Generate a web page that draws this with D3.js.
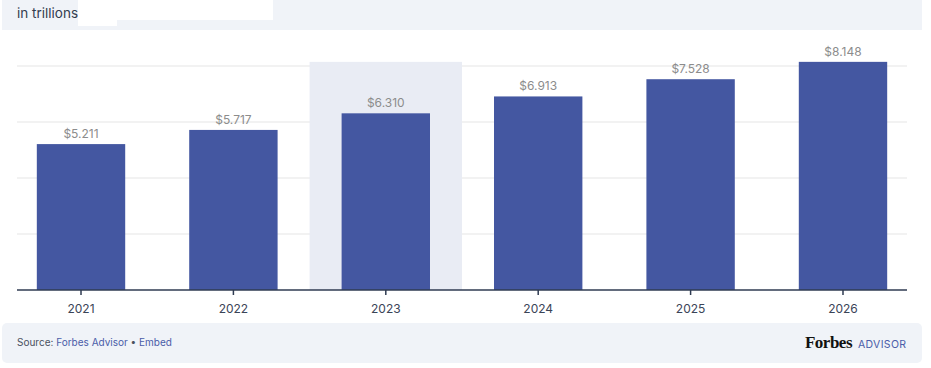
<!DOCTYPE html>
<html>
<head>
<meta charset="utf-8">
<script src="https://cdn.jsdelivr.net/npm/d3@7"></script>
<style>
  body { margin: 0; background: #fff; }
  svg { display: block; font-family: Inter, "Open Sans", sans-serif; }
</style>
</head>
<body>
<svg id="svg" width="931" height="368"></svg>
<script>
const years = ['2021', '2022', '2023', '2024', '2025', '2026'];
const values = [5.211, 5.717, 6.310, 6.913, 7.528, 8.148];
const gridTicks = [0, 2, 4, 6, 8];
const highlightYear = '2023';

const svg = d3.select('#svg');

// header band
svg.append('rect').attr('x', 2).attr('y', 0).attr('width', 920).attr('height', 30).attr('fill', '#f0f3f8');
svg.append('text').attr('x', 17).attr('y', 18).attr('fill', '#333d4f').attr('font-size', 13.5).text('in trillions');
svg.append('rect').attr('x', 78).attr('y', 0).attr('width', 195).attr('height', 20).attr('fill', '#fff');
svg.append('rect').attr('x', 78).attr('y', 20).attr('width', 39).attr('height', 6).attr('fill', '#fff');

const x = d3.scaleBand().domain(years).range([17, 907]).paddingInner(0.42).paddingOuter(0.13);
const y = d3.scaleLinear().domain([0, 8]).range([290, 66]);

// grid
svg.append('g').selectAll('line').data(gridTicks.slice(1)).join('line')
  .attr('x1', 17).attr('x2', 907)
  .attr('y1', (d) => y(d)).attr('y2', (d) => y(d))
  .attr('stroke', '#e5e5e5').attr('stroke-width', 1);

// highlighted year background
const step = x.step();
svg.append('rect')
  .attr('x', x(highlightYear) + x.bandwidth() / 2 - step / 2)
  .attr('y', y(d3.max(values)))
  .attr('width', step)
  .attr('height', y(0) - y(d3.max(values)))
  .attr('fill', '#e9ecf4');

// bars
svg.append('g').selectAll('rect').data(values).join('rect')
  .attr('x', (d, i) => x(years[i]))
  .attr('y', (d) => y(d))
  .attr('width', x.bandwidth())
  .attr('height', (d) => y(0) - y(d))
  .attr('fill', '#4457a1');

// value labels
svg.append('g').selectAll('text').data(values).join('text')
  .attr('x', (d, i) => x(years[i]) + x.bandwidth() / 2)
  .attr('y', (d) => y(d) - 6)
  .attr('text-anchor', 'middle')
  .attr('font-size', 12)
  .attr('fill', '#8c8c8c')
  .text((d) => '$' + d3.format('.3f')(d));

// x axis
const xAxis = svg.append('g').attr('transform', 'translate(0,290)')
  .call(d3.axisBottom(x).tickSize(5).tickSizeOuter(0).tickPadding(9));
xAxis.select('.domain').attr('stroke', '#2f3b52').attr('stroke-width', 1.5).attr('d', 'M17,0H907');
xAxis.selectAll('.tick line').attr('stroke', '#2f3b52').attr('stroke-width', 1.5);
xAxis.selectAll('.tick text').attr('fill', '#3a4457').attr('font-size', 12).attr('font-family', 'Inter, sans-serif');

// footer
svg.append('rect').attr('x', 2).attr('y', 323).attr('width', 920).attr('height', 40).attr('rx', 5).attr('fill', '#f0f3f8');
const src = svg.append('text').attr('x', 17).attr('y', 346).attr('font-size', 10);
src.append('tspan').attr('fill', '#4a5160').text('Source: ');
src.append('tspan').attr('fill', '#4a5ca8').text('Forbes Advisor');
src.append('tspan').attr('fill', '#4a5160').text(' \u2022 ');
src.append('tspan').attr('fill', '#4a5ca8').text('Embed');

svg.append('text').attr('x', 852).attr('y', 348).attr('text-anchor', 'end')
  .attr('font-family', '"Liberation Serif", "DejaVu Serif", serif').attr('font-weight', 'bold')
  .attr('font-size', 17).attr('letter-spacing', -0.5).attr('fill', '#111').text('Forbes');
svg.append('text').attr('x', 858).attr('y', 347.5)
  .attr('font-size', 10.5).attr('fill', '#4a5ca8').attr('textLength', 48).text('ADVISOR');
</script>
</body>
</html>
